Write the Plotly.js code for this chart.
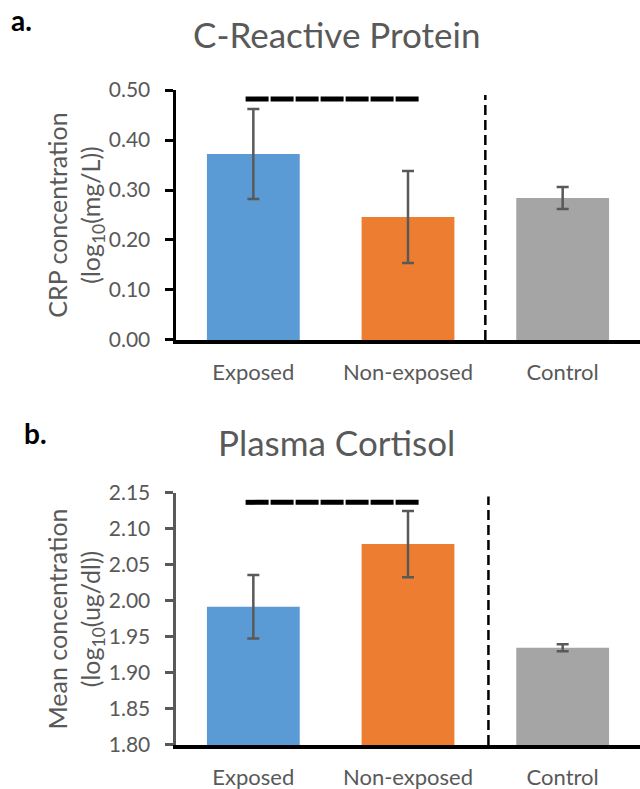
<!DOCTYPE html>
<html><head><meta charset="utf-8">
<script src="https://cdn.plot.ly/plotly-3.0.1.min.js"></script>
<style>html,body{margin:0;padding:0;background:#fff;}#chart{width:640px;height:789px;}</style>
</head><body><div id="chart"></div>
<script>
const categories = ["Exposed", "Non-exposed", "Control"];
const barColors = ["#5b9bd5", "#ed7d31", "#a5a5a5"];
const crpMeans = [0.372, 0.246, 0.284];
const crpErrors = [0.090, 0.092, 0.022];
const cortMeans = [1.992, 2.079, 1.935];
const cortErrors = [0.044, 0.046, 0.005];
const crpTicks = [0.00, 0.10, 0.20, 0.30, 0.40, 0.50];
const cortTicks = [1.80, 1.85, 1.90, 1.95, 2.00, 2.05, 2.10, 2.15];
const sigLevels = [0.482, 2.137];
const dividerTops = [0.49, 2.145];

const gray = "#595959";
const font = "Lato, 'Open Sans', sans-serif";

const errStyle = {type: "data", visible: true, color: gray, thickness: 2.5, width: 6};

const traces = [
  {type: "bar", x: categories, y: crpMeans, marker: {color: barColors},
   error_y: Object.assign({array: crpErrors}, errStyle), xaxis: "x", yaxis: "y", hoverinfo: "none"},
  {type: "bar", x: categories, y: cortMeans, base: 0, marker: {color: barColors},
   error_y: Object.assign({array: cortErrors}, errStyle), xaxis: "x2", yaxis: "y2", hoverinfo: "none"}
];

function xax(anchor) {
  return {anchor: anchor, domain: [0, 1], range: [-0.5, 2.5], showline: true, linecolor: "#000", linewidth: 4,
    ticks: "", showgrid: false, zeroline: false, tickfont: {family: font, size: 22, color: gray},
    ticklabelstandoff: 10, fixedrange: true};
}
function yax(anchor, domain, range, ticks, lineColor, title) {
  return {anchor: anchor, domain: domain, range: range, tickvals: ticks,
    ticktext: ticks.map(v => v.toFixed(2) + "\u2002"),
    showline: true, linecolor: lineColor, linewidth: 3, ticks: "outside", ticklen: 8, tickwidth: 3, tickcolor: lineColor,
    showgrid: false, zeroline: false, tickfont: {family: font, size: 21, color: gray},
    title: {text: title, font: {family: font, size: 25, color: gray}, standoff: 0}, fixedrange: true};
}

const W = 640, H = 789, L = 176;
function px(x){ return (x - L) / (W - L); }
function py(y){ return 1 - y / H; }

const layout = {
  width: W, height: H, margin: {l: L, r: 0, t: 0, b: 0},
  paper_bgcolor: "#fff", plot_bgcolor: "#fff", showlegend: false, bargap: 0.4,
  xaxis: xax("y"),
  yaxis: yax("x", [0.5691, 0.8859], [0, 0.5], crpTicks, "#000", "CRP concentration<br>(log<sub>10</sub>(mg/L))"),
  xaxis2: xax("y2"),
  yaxis2: yax("x2", [0.0558, 0.3752], [1.8, 2.15], cortTicks, gray, "Mean concentration<br>(log<sub>10</sub>(ug/dl))"),
  shapes: [
    {type: "line", xref: "x", yref: "y", x0: -0.05, x1: 1.08, y0: sigLevels[0], y1: sigLevels[0], line: {color: "#000", width: 5, dash: "23px,2px"}},
    {type: "line", xref: "x", yref: "y", x0: 1.5, x1: 1.5, y0: 0, y1: dividerTops[0], line: {color: "#000", width: 2.5, dash: "10px,5px"}},
    {type: "line", xref: "x2", yref: "y2", x0: -0.05, x1: 1.08, y0: sigLevels[1], y1: sigLevels[1], line: {color: "#000", width: 5, dash: "23px,2px"}},
    {type: "line", xref: "x2", yref: "y2", x0: 1.52, x1: 1.52, y0: 1.8, y1: dividerTops[1], line: {color: "#000", width: 2.5, dash: "10px,5px"}}
  ],
  annotations: [
    {text: "C-Reactive Protein", xref: "paper", yref: "paper", x: px(336), y: py(34), xanchor: "center", yanchor: "middle", showarrow: false, font: {family: font, size: 35, color: gray}},
    {text: "Plasma Cortisol", xref: "paper", yref: "paper", x: px(336), y: py(442), xanchor: "center", yanchor: "middle", showarrow: false, font: {family: font, size: 35, color: gray}},
    {text: "<b>a.</b>", xref: "paper", yref: "paper", x: px(9), y: py(20), xanchor: "left", yanchor: "middle", showarrow: false, font: {family: font, size: 28, color: "#000"}},
    {text: "<b>b.</b>", xref: "paper", yref: "paper", x: px(22), y: py(433), xanchor: "left", yanchor: "middle", showarrow: false, font: {family: font, size: 28, color: "#000"}}
  ]
};
Plotly.newPlot("chart", traces, layout, {staticPlot: true, displayModeBar: false});
</script></body></html>
